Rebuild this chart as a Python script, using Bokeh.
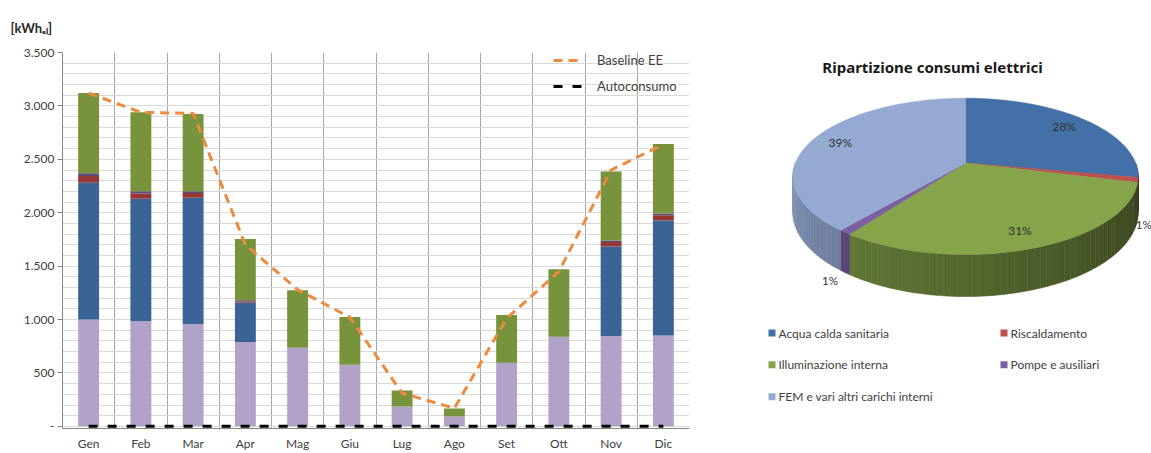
import math
from bokeh.plotting import figure
from bokeh.layouts import row
from bokeh.models import ColumnDataSource, FixedTicker, Range1d, Legend, Title
from bokeh.core.properties import value
from bokeh.embed import file_html
from bokeh.resources import INLINE

# ---------------- data ----------------
months = ["Gen", "Feb", "Mar", "Apr", "Mag", "Giu", "Lug", "Ago", "Set", "Ott", "Nov", "Dic"]
fem = [1000, 985, 955, 790, 735, 577, 186, 93, 596, 838, 845, 850]
acs = [1280, 1145, 1185, 370, 0, 0, 0, 0, 0, 0, 840, 1077]
risc = [65, 50, 45, 12, 0, 0, 0, 0, 0, 0, 40, 50]
pompe = [25, 20, 15, 8, 0, 0, 0, 0, 0, 0, 15, 16]
illum = [750, 740, 725, 575, 540, 447, 149, 75, 447, 632, 645, 650]
baseline_ee = [3120, 2940, 2930, 1700, 1280, 1020, 310, 170, 1010, 1450, 2400, 2640]
autoconsumo = [0, 0, 0, 0, 0, 0, 0, 0, 0, 0, 0, 0]
y_ticks = [0, 500, 1000, 1500, 2000, 2500, 3000, 3500]
y_tick_labels = ["-", "500", "1.000", "1.500", "2.000", "2.500", "3.000", "3.500"]
unit_label = "[kWh\u2091\u2097]"

pie_title = "Ripartizione consumi elettrici"
pie_names = ["Acqua calda sanitaria", "Riscaldamento", "Illuminazione interna",
             "Pompe e ausiliari", "FEM e vari altri carichi interni"]
pie_shares = [28, 1, 31, 1, 39]

FONT = "Lato"
TXT = "#404040"
TOP, BOTTOM = 52, 23   # frame borders shared by both panels

# ---------------- bar chart ----------------
xs = [i + 0.5 for i in range(len(months))]
src = ColumnDataSource(dict(x=xs, fem=fem, acs=acs, risc=risc, pompe=pompe, illum=illum))

p = figure(width=710, height=453, x_range=Range1d(0, 12), y_range=Range1d(-20, 3500),
           output_backend="svg", toolbar_location=None,
           min_border_left=62, min_border_right=21, min_border_top=TOP, min_border_bottom=BOTTOM)
p.outline_line_color = None
p.add_layout(Title(text=unit_label, align="left", offset=-52, standoff=33,
                   text_font=FONT, text_font_style="bold", text_font_size="13px",
                   text_color="#262626"), "above")

p.vbar_stack(["fem", "acs", "risc", "pompe", "illum"], x="x", width=0.4, source=src,
             color=["#b3a2c7", "#3a6396", "#953735", "#604a7b", "#77933c"], line_color=None)

r_base = p.line(xs, baseline_ee, line_color="#ee8a3e", line_width=3, line_dash="9 6")
r_auto = p.line(xs, autoconsumo, line_color="black", line_width=3, line_dash="9 10")

p.ygrid.ticker = FixedTicker(ticks=list(range(0, 3501, 100)))
p.ygrid.grid_line_color = "#d9d9d9"
p.xgrid.ticker = FixedTicker(ticks=list(range(1, 13)))
p.xgrid.grid_line_color = "#a8a8a8"

p.yaxis.ticker = FixedTicker(ticks=y_ticks)
p.yaxis.major_label_overrides = {t: l for t, l in zip(y_ticks, y_tick_labels)}
p.yaxis.axis_line_color = "#868686"
p.yaxis.major_tick_line_color = "#868686"
p.yaxis.major_tick_out = 5
p.yaxis.major_tick_in = 0
p.yaxis.minor_tick_line_color = None
p.yaxis.major_label_standoff = 3
p.yaxis.major_label_text_font = FONT
p.yaxis.major_label_text_font_size = "12px"
p.yaxis.major_label_text_color = TXT

p.xaxis.ticker = FixedTicker(ticks=xs)
p.xaxis.major_label_overrides = {x: m for x, m in zip(xs, months)}
p.xaxis.axis_line_color = "#868686"
p.xaxis.major_tick_line_color = None
p.xaxis.major_tick_out = 0
p.xaxis.major_tick_in = 0
p.xaxis.minor_tick_line_color = None
p.xaxis.major_label_standoff = 7
p.xaxis.major_label_text_font = FONT
p.xaxis.major_label_text_font_size = "12px"
p.xaxis.major_label_text_color = TXT

legend = Legend(items=[("Baseline EE", [r_base]), ("Autoconsumo", [r_auto])],
                location=(491, 334), padding=0, spacing=10, glyph_width=30, glyph_height=16,
                label_height=16, label_standoff=14, margin=0,
                background_fill_alpha=0, border_line_color=None,
                label_text_font=FONT, label_text_font_size="13px", label_text_color=TXT)
p.add_layout(legend)

# ---------------- 3D pie chart ----------------
H_CANVAS = 453
q = figure(width=441, height=H_CANVAS, x_range=Range1d(0, 441),
           y_range=Range1d(BOTTOM, H_CANVAS - TOP),
           output_backend="svg", toolbar_location=None,
           min_border_left=0, min_border_right=0, min_border_top=TOP, min_border_bottom=BOTTOM,
           x_axis_type=None, y_axis_type=None)
q.grid.visible = False
q.outline_line_color = None

CX, CY = 255.0, 290.0      # pie centre (pixels, y up)
RX, RY = 170.0, 76.2       # horizontal radius, vertical (tilted) radius
K = 0.172                  # perspective strength
H = 35.0                   # thickness

def proj(theta, r=1.0):
    t = math.radians(theta)
    f = 1.0 / (1.0 + K * r * math.cos(t))
    return CX + r * RX * math.sin(t) * f, CY + r * RY * math.cos(t) * f, f

def shade(hexc, fac):
    h = hexc.lstrip("#")
    rgb = [int(h[i:i + 2], 16) for i in (0, 2, 4)]
    return "#%02x%02x%02x" % tuple(max(0, min(255, int(c * fac))) for c in rgb)

pie_colors = ["#4470a8", "#c0504d", "#86a44a", "#7c5fa3", "#95aad2"]
total = float(sum(pie_shares))
bounds = [0.0]
for s in pie_shares:
    bounds.append(bounds[-1] + 360.0 * s / total)

side_x, side_y, side_c = [], [], []
top_x, top_y, top_c = [], [], []
for i, col in enumerate(pie_colors):
    a0, a1 = bounds[i], bounds[i + 1]
    n = max(2, int((a1 - a0) / 1.0) + 1)
    px, py = [CX], [CY]
    for j in range(n + 1):
        th = a0 + (a1 - a0) * j / n
        x, y, _ = proj(th)
        px.append(x); py.append(y)
    top_x.append(px); top_y.append(py); top_c.append(col)
    s0, s1 = max(a0, 90.0), min(a1, 270.0)
    if s1 > s0:
        m = max(1, int((s1 - s0) / 2.0) + 1)
        for j in range(m):
            ta = s0 + (s1 - s0) * j / m
            tb = s0 + (s1 - s0) * (j + 1) / m
            xa, ya, fa = proj(ta)
            xb, yb, fb = proj(tb)
            side_x.append([xa, xb, xb, xa])
            side_y.append([ya, yb, yb - H * fb, ya - H * fa])
            tm = 0.5 * (ta + tb)
            side_c.append(shade(col, 0.38 + 0.5 * (tm - 90.0) / 180.0))

q.patches(side_x, side_y, fill_color=side_c, line_color=side_c, line_width=0.6)
q.patches(top_x, top_y, fill_color=top_c, line_color=top_c, line_width=0.6)

# percentage labels
in_x, in_y, in_t = [], [], []
out_x, out_y, out_t, out_a = [], [], [], []
for i, s in enumerate(pie_shares):
    mid = 0.5 * (bounds[i] + bounds[i + 1])
    if s >= 5:
        x, y, _ = proj(mid, 0.82)
        in_x.append(x); in_y.append(y); in_t.append("%d%%" % s)
    else:
        x, y, f = proj(mid, 1.0)
        right = math.sin(math.radians(mid)) > 0
        out_x.append(x - 2 if right else x - 7)
        out_y.append(y - H * f - 8)
        out_t.append("%d%%" % s)
        out_a.append("left" if right else "right")
q.text(in_x, in_y, text=in_t, text_font=value(FONT), text_font_size="12px", text_color="#333333",
       text_align="center", text_baseline="middle")
q.text(out_x, out_y, text=out_t, text_align=out_a, text_font=value(FONT), text_font_size="11.5px",
       text_color="#333333", text_baseline="middle")

# title
q.text([222], [386], text=[pie_title], text_font=value("Noto Sans"), text_font_size="15px",
       text_font_style="bold", text_color="#1a1a1a", text_align="center", text_baseline="middle")

# legend (two columns)
gx, gy, tx = [], [], []
for i, name in enumerate(pie_names):
    c, r_ = i % 2, i // 2
    gx.append(61.5 + c * 232); gy.append(119 - r_ * 32); tx.append(68 + c * 232)
q.rect(gx, gy, width=7, height=7, fill_color=pie_colors, line_color=None)
q.text(tx, gy, text=pie_names, text_font=value(FONT), text_font_size="12px", text_color=TXT,
       text_align="left", text_baseline="middle")

layout = row(p, q)
open("out.html", "w").write(file_html(layout, INLINE))
